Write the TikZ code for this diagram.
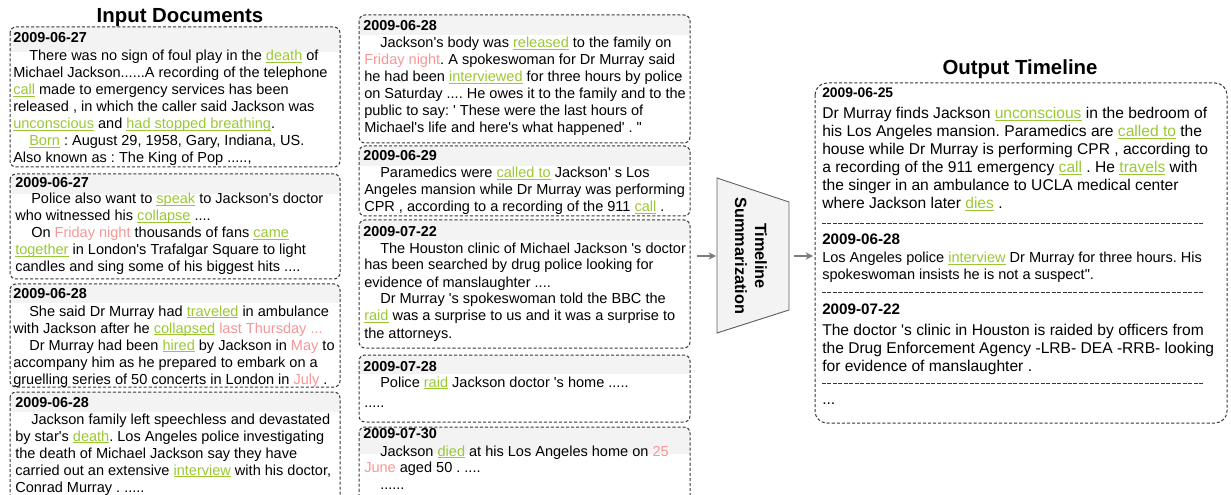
\documentclass[tikz,border=0pt]{standalone}
\usepackage{fontspec}
\setmainfont{Liberation Sans}
\usetikzlibrary{arrows.meta}

\definecolor{evgreen}{RGB}{154,200,50}
\definecolor{tmpink}{RGB}{246,150,150}
\definecolor{band}{RGB}{243,243,243}
\definecolor{frame}{RGB}{55,55,55}
\definecolor{arrowgray}{RGB}{125,125,125}

% event words: green with a thin underline; time expressions: pink
\newcommand\ev[1]{{\color{evgreen}\setbox0\hbox{#1}\rlap{\rule[-1.6pt]{\wd0}{0.6pt}}\box0}}
\newcommand\tm[1]{\textcolor{tmpink}{#1}}
% straight typewriter-style quotes
\newcommand\q{\textquotesingle}
\newcommand\qq{\textquotedbl}
% a block of hand-broken lines whose baseline is the first line's
\newcommand\rows[2][12.75pt]{\vtop{\baselineskip=#1\lineskiplimit=-20pt\lineskip=0pt\relax #2}}
\newcommand\row[1]{\hbox{#1}}
\newcommand\ind{\hspace*{12pt}}

% a dashed document card with a grey header band
\newcommand\docframe[5]{%
  \begin{scope}
    \clip[rounded corners=4.5pt] (#1,#2) rectangle (#3,#4);
    \fill[band] (#1,#2) rectangle (#3,#5);
  \end{scope}
  \draw[docline] (#1,#2) rectangle (#3,#4);}

\tikzset{
  docline/.style={draw=frame, line width=0.75pt, dash pattern=on 2.3pt off 1.5pt, rounded corners=4.5pt},
  body/.style={anchor=base west, inner sep=0pt, font=\fontsize{10.9}{12.75}\selectfont},
  date/.style={anchor=base west, inner sep=0pt, font=\bfseries\fontsize{10.8}{12.75}\selectfont},
  rbody/.style={anchor=base west, inner sep=0pt, font=\fontsize{11.7}{13.5}\selectfont},
  rdate/.style={anchor=base west, inner sep=0pt, font=\bfseries\fontsize{10.4}{13.5}\selectfont},
  rdatebig/.style={rdate, font=\bfseries\fontsize{11.4}{13.5}\selectfont},
  title/.style={anchor=base, inner sep=0pt, font=\bfseries\fontsize{15.3}{18}\selectfont},
  sep/.style={draw=frame, line width=0.7pt, dash pattern=on 3pt off 1.1pt},
  arr/.style={draw=arrowgray, line width=1pt, -{Stealth[length=5.5pt,width=5.5pt]}},
}

\begin{document}
\frenchspacing
\begin{tikzpicture}[x=0.75pt,y=-0.75pt]
\useasboundingbox (0,0) rectangle (1231,495);

% ---------- input documents, left column ----------
\node[title] (intitle) at (180,23) {Input Documents};

\docframe{10}{27}{340}{167}{52}
\node[date] (l1d) at (13,43) {2009-06-27};
\node[body] (l1t) at (13,61) {\rows{%
\row{\ind There was no sign of foul play in the \ev{death} of}
\row{Michael Jackson......A recording of the telephone}
\row{\ev{call} made to emergency services has been}
\row{released , in which the caller said Jackson was}
\row{\ev{unconscious} and \ev{had stopped breathing}.}
\row{\ind\ev{Born} : August 29, 1958, Gary, Indiana, US.}
\row{Also known as : The King of Pop .....,}}};

\docframe{10}{174}{340}{279}{194}
\node[date] (l2d) at (15,188) {2009-06-27};
\node[body] (l2t) at (15,204) {\rows{%
\row{\ind Police also want to \ev{speak} to Jackson\q s doctor}
\row{who witnessed his \ev{collapse} ....}
\row{\ind On \tm{Friday night} thousands of fans \ev{came}}
\row{\ev{together} in London\q s Trafalgar Square to light}
\row{candles and sing some of his biggest hits ....}}};

\docframe{10}{284}{340}{387}{303}
\node[date] (l3d) at (13,299) {2009-06-28};
\node[body] (l3t) at (13,316) {\rows{%
\row{\ind She said Dr Murray had \ev{traveled} in ambulance}
\row{with Jackson after he \ev{collapsed} \tm{last Thursday ...}}
\row{\ind Dr Murray had been \ev{hired} by Jackson in \tm{May} to}
\row{accompany him as he prepared to embark on a}
\row{gruelling series of 50 concerts in London in \tm{July} .}}};

\docframe{10}{392}{340}{512}{412}
\node[date] (l4d) at (15,407) {2009-06-28};
\node[body] (l4t) at (15,424) {\rows{%
\row{\ind Jackson family left speechless and devastated}
\row{by star\q s \ev{death}. Los Angeles police investigating}
\row{the death of Michael Jackson say they have}
\row{carried out an extensive \ev{interview} with his doctor,}
\row{Conrad Murray . .....}}};

% ---------- input documents, middle column ----------
\docframe{359}{15}{690}{143}{35}
\node[date] (m1d) at (363,31) {2009-06-28};
\node[body] (m1t) at (364,48) {\rows{%
\row{\ind Jackson\q s body was \ev{released} to the family on}
\row{\tm{Friday night}. A spokeswoman for Dr Murray said}
\row{he had been \ev{interviewed} for three hours by police}
\row{on Saturday .... He owes it to the family and to the}
\row{public to say: \q{} These were the last hours of}
\row{Michael\q s life and here\q s what happened\q{} . \qq}}};

\docframe{359}{146}{690}{216}{166}
\node[date] (m2d) at (363,161) {2009-06-29};
\node[body] (m2t) at (364,178) {\rows{%
\row{\ind Paramedics were \ev{called to} Jackson\q{} s Los}
\row{Angeles mansion while Dr Murray was performing}
\row{CPR , according to a recording of the 911 \ev{call} .}}};

\docframe{359}{220}{690}{348}{240}
\node[date] (m3d) at (363,237) {2009-07-22};
\node[body] (m3t) at (364,253) {\rows{%
\row{\ind The Houston clinic of Michael Jackson \q s doctor}
\row{has been searched by drug police looking for}
\row{evidence of manslaughter ....}
\row{\ind Dr Murray \q s spokeswoman told the BBC the}
\row{\ev{raid} was a surprise to us and it was a surprise to}
\row{the attorneys.}}};

\docframe{359}{355}{690}{422}{374}
\node[date] (m4d) at (363,371) {2009-07-28};
\node[body] (m4t) at (364,387) {\rows[15pt]{%
\row{\ind Police \ev{raid} Jackson doctor \q s home .....}
\row{.....}}};

\docframe{359}{427}{690}{512}{454}
\node[date] (m5d) at (363,438) {2009-07-30};
\node[body] (m5t) at (364,456) {\rows[12.4pt]{%
\row{\ind Jackson \ev{died} at his Los Angeles home on \tm{25}}
\row{\tm{June} aged 50 . ....}
\row{\ind ......}}};

% ---------- summarization step ----------
\filldraw[fill=band, draw=frame!80, line width=0.7pt]
  (717,178) -- (789,202) -- (789,310) -- (717,333) -- cycle;
\node[rotate=-90, align=center, inner sep=0pt,
      font=\bfseries\fontsize{12.2}{15}\selectfont] (ts) at (751,256)
  {Timeline\\Summarization};

\coordinate (docsout) at (697,256);
\coordinate (tsin)    at (716,256);
\coordinate (tsout)   at (794,256);
\coordinate (tlin)    at (813,256);
\draw[arr] (docsout) -- (tsin);
\draw[arr] (tsout) -- (tlin);

% ---------- output timeline ----------
\node[title] (outtitle) at (1020,75) {Output Timeline};
\draw[docline, rounded corners=9pt] (815,83) rectangle (1227,423);

\node[rdate] (r1d) at (822,98) {2009-06-25};
\node[rbody] (r1t) at (822,118.5) {\rows[13.5pt]{%
\row{Dr Murray finds Jackson \ev{unconscious} in the bedroom of}
\row{his Los Angeles mansion. Paramedics are \ev{called to} the}
\row{house while Dr Murray is performing CPR , according to}
\row{a recording of the 911 emergency \ev{call} . He \ev{travels} with}
\row{the singer in an ambulance to UCLA medical center}
\row{where Jackson later \ev{dies} .}}};
\draw[sep] (822,223) -- (1203,223);

\node[rdatebig] (r2d) at (822,245) {2009-06-28};
\node[body] (r2t) at (822,262.5) {\rows{%
\row{Los Angeles police \ev{interview} Dr Murray for three hours. His}
\row{spokeswoman insists he is not a suspect\qq.}}};
\draw[sep] (822,292) -- (1203,292);

\node[rdatebig] (r3d) at (822,315) {2009-07-22};
\node[rbody] (r3t) at (822,335) {\rows[13.5pt]{%
\row{The doctor \q s clinic in Houston is raided by officers from}
\row{the Drug Enforcement Agency -LRB- DEA -RRB- looking}
\row{for evidence of manslaughter .}}};
\draw[sep] (822,383) -- (1203,383);

\node[rbody] (r4t) at (822,404) {...};
\end{tikzpicture}
\end{document}
